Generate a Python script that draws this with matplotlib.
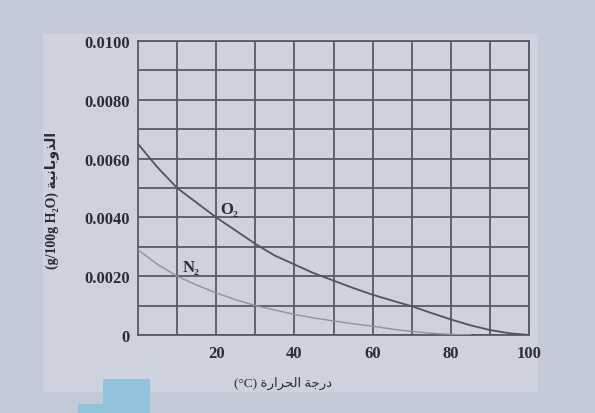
import matplotlib
matplotlib.use("Agg")
import matplotlib.pyplot as plt
from matplotlib.patches import Rectangle

# ---- data ----
temp_o2 = [0, 5, 10, 15, 20, 25, 30, 35, 40, 45, 50, 55, 60, 65, 70, 75, 80, 85, 90, 95, 100]
sol_o2 = [0.0065, 0.0057, 0.0050, 0.0045, 0.0040, 0.00355, 0.0031, 0.0027, 0.0024, 0.0021,
          0.00185, 0.0016, 0.00137, 0.00117, 0.00098, 0.00075, 0.00053, 0.00033, 0.00017, 0.00006, 0.0]
temp_n2 = [0, 5, 10, 15, 20, 25, 30, 35, 40, 45, 50, 55, 60, 65, 70, 75, 80, 85]
sol_n2 = [0.0029, 0.0024, 0.0020, 0.0017, 0.00143, 0.0012, 0.0010, 0.00085, 0.0007, 0.00058,
          0.00048, 0.00038, 0.0003, 0.0002, 0.00012, 0.00006, 0.00002, 0.0]
x_ticks = [20, 40, 60, 80, 100]
x_tick_labels = ["20", "40", "60", "80", "100"]
y_ticks = [0, 0.002, 0.004, 0.006, 0.008, 0.010]
y_tick_labels = ["0", "0.0020", "0.0040", "0.0060", "0.0080", "0.0100"]
# Arabic labels (pre-shaped presentation forms in visual order)
x_label = "(°C) " + "\uFE93\uFEAD\uFE8D\uFEAE\uFEA4\uFEDF\uFE8D \uFE94\uFE9F\uFEAD\uFEA9"
y_label = "(g/100g H\u2082O) " + "\uFE94\uFEF4\uFEE7\uFE8E\uFE91\uFEED\uFEAC\uFEDF\uFE8D"

W, H = 595, 414
fig = plt.figure(figsize=(W / 100, H / 100), dpi=100)
fig.patch.set_facecolor("#c4c9d7")

# paper area
fig.patches.append(Rectangle((43 / W, 1 - 393 / H), (538 - 43) / W, (393 - 35) / H,
                             transform=fig.transFigure, facecolor="#cdd2de", edgecolor="none", zorder=-5))
# watermark blocks
fig.patches.append(Rectangle((103 / W, 0), 47 / W, 34 / H, transform=fig.transFigure,
                             facecolor="#93c3dc", edgecolor="none", zorder=-4))
fig.patches.append(Rectangle((78 / W, 0), 72 / W, 9 / H, transform=fig.transFigure,
                             facecolor="#93c3dc", edgecolor="none", zorder=-4))

ax = fig.add_axes([138 / W, 1 - 336 / H, (529 - 138) / W, (336 - 42) / H])
ax.set_zorder(2)
ax.set_facecolor("#cdd2de")

ax.plot(temp_o2, sol_o2, color="#4f5461", lw=1.3, zorder=3)
ax.plot(temp_n2, sol_n2, color="#8d929e", lw=1.0, zorder=3)

ax.set_xlim(0, 100)
ax.set_ylim(0, 0.010)
ax.set_xticks(x_ticks)
ax.set_xticks(range(10, 100, 10), minor=True)
ax.set_xticklabels(x_tick_labels)
ax.set_yticks(y_ticks)
ax.set_yticks([0.001, 0.003, 0.005, 0.007, 0.009], minor=True)
ax.set_yticklabels(y_tick_labels)
ax.grid(True, which="both", color="#555a66", lw=1.3)
ax.tick_params(which="both", length=0)
ax.tick_params(axis="x", pad=7)
ax.tick_params(axis="y", pad=6)
for lab in ax.get_xticklabels() + ax.get_yticklabels():
    lab.set_family("Liberation Serif")
    lab.set_fontsize(12)
    lab.set_color("#2b2d33")
    lab.set_fontweight("bold")
for s in ax.spines.values():
    s.set_color("#555a66")
    s.set_linewidth(1.3)

ax.text(23.3, 0.0043, "O\u2082", fontsize=12, family=["Liberation Serif", "DejaVu Sans"], fontweight="bold",
        color="#2b2d33", ha="center", va="center")
ax.text(13.6, 0.0023, "N\u2082", fontsize=12, family=["Liberation Serif", "DejaVu Sans"], fontweight="bold",
        color="#2b2d33", ha="center", va="center")

fig.text(283 / W, 1 - 383 / H, x_label, fontsize=9.5, family=["Liberation Serif", "DejaVu Sans"],
         color="#2b2d33", ha="center", va="center")
fig.text(52 / W, 1 - 200 / H, y_label, fontsize=10, family=["Liberation Serif", "DejaVu Sans"],
         color="#2b2d33", ha="center", va="center", rotation=90, fontweight="bold")

fig.savefig("out.png", dpi=100, facecolor=fig.get_facecolor())
